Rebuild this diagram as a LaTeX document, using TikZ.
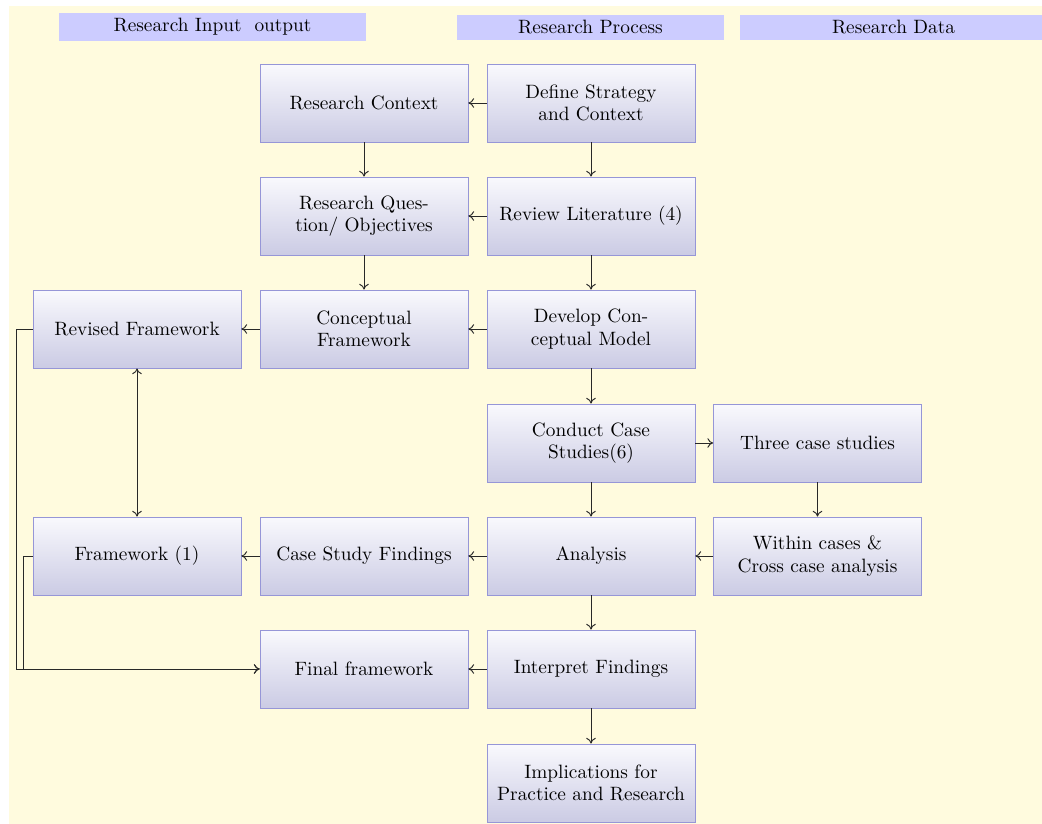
\documentclass[tikz,border=0pt]{standalone}
\usetikzlibrary{arrows.meta,positioning}
\definecolor{paper}{RGB}{255,251,222}
\definecolor{headfill}{RGB}{204,204,255}
\definecolor{boxtop}{RGB}{249,249,253}
\definecolor{boxbot}{RGB}{203,203,228}
\definecolor{boxline}{RGB}{150,150,215}
\definecolor{wire}{RGB}{40,40,40}
\tikzset{
  stepbox/.style={draw=boxline, top color=boxtop, bottom color=boxbot,
    minimum width=107.7pt, minimum height=40.4pt, align=center,
    inner sep=2pt, font=\fontsize{10}{11.5}\selectfont},
  headbox/.style={fill=headfill, minimum width=159pt, minimum height=13pt,
    inner sep=0pt, font=\fontsize{10}{12}\selectfont},
  link/.style={draw=wire, line width=0.5pt, -{To[length=3pt,width=5pt]}},
  twolink/.style={draw=wire, line width=0.5pt, {To[length=3pt,width=5pt]}-{To[length=3pt,width=5pt]}},
}
\begin{document}
\begin{tikzpicture}[x=0.518pt, y=-0.518pt]
\useasboundingbox (0,0) rectangle (1042,824);
\fill[paper] (9,6) rectangle (1042,824);

% column headings
\node[headbox, minimum height=14.5pt] (hin) at (212.5,27) {Research Input\ \ output};
\node[headbox, minimum width=138.3pt] (hproc) at (590.5,27.5) {Research Process};
\node[headbox] (hdata) at (893.5,27.5) {Research Data};

% research process column
\node[stepbox] (strat) at (591,103) {Define Strategy\\and Context};
\node[stepbox] (lit)   at (591,216) {Review Literature (4)};
\node[stepbox] (model) at (591,329) {Develop Con-\\ceptual Model};
\node[stepbox] (cases) at (591,443) {Conduct Case\\Studies(6)};
\node[stepbox] (anal)  at (591,556) {Analysis};
\node[stepbox] (interp) at (591,669) {Interpret Findings};
\node[stepbox] (impl)  at (591,783) {Implications for\\Practice and Research};

% input / output columns
\node[stepbox] (ctx)   at (364,103) {Research Context};
\node[stepbox] (quest) at (364,216) {Research Ques-\\tion/ Objectives};
\node[stepbox] (concept) at (364,329) {Conceptual\\Framework};
\node[stepbox] (revised) at (137,329) {Revised Framework};
\node[stepbox] (findings) at (364,556) {Case Study Findings};
\node[stepbox] (frame1) at (137,556) {Framework (1)};
\node[stepbox] (final) at (364,669) {Final framework};

% research data column
\node[stepbox] (three) at (817.5,443) {Three case studies};
\node[stepbox] (within) at (817.5,556) {Within cases \&\\Cross case analysis};

% connectors
\draw[link] (strat) -- (ctx);
\draw[link] (strat) -- (lit);
\draw[link] (ctx) -- (quest);
\draw[link] (lit) -- (quest);
\draw[link] (quest) -- (concept);
\draw[link] (lit) -- (model);
\draw[link] (model) -- (concept);
\draw[link] (concept) -- (revised);
\draw[link] (model) -- (cases);
\draw[link] (cases) -- (three);
\draw[link] (three) -- (within);
\draw[link] (within) -- (anal);
\draw[link] (cases) -- (anal);
\draw[link] (anal) -- (findings);
\draw[link] (findings) -- (frame1);
\draw[link] (anal) -- (interp);
\draw[link] (interp) -- (final);
\draw[link] (interp) -- (impl);
\draw[twolink] (revised) -- (frame1);

\coordinate (revbend) at (16,329);
\coordinate (frbend) at (23,556);
\draw[link] (revised.west) -- (revbend) |- (final.west);
\draw[link] (frame1.west) -- (frbend) |- (final.west);
\end{tikzpicture}
\end{document}
